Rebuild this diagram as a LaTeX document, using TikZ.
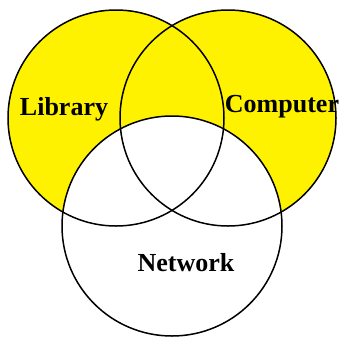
\documentclass[tikz,border=0pt]{standalone}
\usepackage{fontspec}
\setmainfont{Liberation Serif}
\begin{document}
\begin{tikzpicture}[x=1pt,y=-1pt,
  ring/.style={draw=black,line width=1.5pt},
  lbl/.style={font=\fontsize{26}{26}\selectfont\bfseries,inner sep=0pt,anchor=base}]
\useasboundingbox (0,0) rectangle (342,338);
\coordinate (L) at (116,118);
\coordinate (C) at (228,118);
\coordinate (N) at (172,226);
\fill[yellow] (L) circle[radius=108pt];
\fill[yellow] (C) circle[radius=108pt];
\fill[white] (N) circle[radius=110pt];
\draw[ring] (L) circle[radius=108pt];
\draw[ring] (C) circle[radius=108pt];
\draw[ring] (N) circle[radius=110pt];
\node[lbl] (lib) at (64,115) {Library};
\node[lbl] (comp) at (282,112) {Computer};
\node[lbl] (net) at (186,271) {Network};
\end{tikzpicture}
\end{document}
